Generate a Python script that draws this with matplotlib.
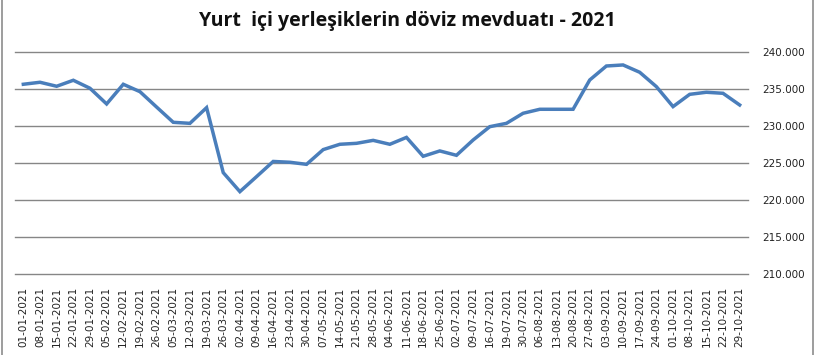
import matplotlib
matplotlib.use("Agg")
import matplotlib.pyplot as plt
from matplotlib.ticker import FuncFormatter
from matplotlib.lines import Line2D

# weekly dates (labels as printed on the chart)
dates = [
    "01-01-2021", "08-01-2021", "15-01-2021", "22-01-2021", "29-01-2021",
    "05-02-2021", "12-02-2021", "19-02-2021", "26-02-2021", "05-03-2021",
    "12-03-2021", "19-03-2021", "26-03-2021", "02-04-2021", "09-04-2021",
    "16-04-2021", "23-04-2021", "30-04-2021", "07-05-2021", "14-05-2021",
    "21-05-2021", "28-05-2021", "04-06-2021", "11-06-2021", "18-06-2021",
    "25-06-2021", "02-07-2021", "09-07-2021", "16-07-2021", "19-07-2021",
    "30-07-2021", "06-08-2021", "13-08-2021", "20-08-2021", "27-08-2021",
    "03-09-2021", "10-09-2021", "17-09-2021", "24-09-2021", "01-10-2021",
    "08-10-2021", "15-10-2021", "22-10-2021", "29-10-2021",
]

# deposits
deposits = [
    235680, 235950, 235410, 236220, 235140, 233020, 235680, 234680, 232600,
    230540, 230400, 232520, 223740, 221170, 223200, 225250, 225140, 224860,
    226850, 227570, 227700, 228100, 227570, 228500, 225950, 226670, 226080,
    228150, 229950, 230400, 231760, 232300, 232300, 232300, 236260, 238150,
    238290, 237300, 235360, 232660, 234320, 234600, 234460, 232880,
]

yticks = [210000, 215000, 220000, 225000, 230000, 235000, 240000]

fig = plt.figure(figsize=(8.15, 3.55), dpi=100)
ax = fig.add_axes([15 / 815, (355 - 274.3) / 355, (748 - 15) / 815, 222 / 355])

x = list(range(len(dates)))
ax.plot(x, deposits, color="#4a7ebb", linewidth=2.5, solid_joinstyle="miter")

ax.set_xlim(-0.5, len(dates) - 0.5)
ax.set_ylim(210000, 240000)
ax.set_yticks(yticks)
ax.yaxis.set_major_formatter(FuncFormatter(lambda v, p: f"{v:,.0f}".replace(",", ".")))
ax.yaxis.tick_right()
ax.set_xticks(x)
ax.set_xticklabels(dates, rotation=90)

ax.grid(axis="y", color="#868686", linewidth=1.0)
for gl in ax.get_ygridlines():
    gl.set_clip_on(False)
ax.set_axisbelow(True)
for s in ax.spines.values():
    s.set_visible(False)
ax.tick_params(axis="both", length=0, labelsize=7.5, colors="#222222")
ax.tick_params(axis="y", pad=10)
ax.tick_params(axis="x", pad=9)

fig.suptitle("Yurt  içi yerleşiklerin döviz mevduatı - 2021", x=0.5, y=0.968,
             fontsize=14, fontweight="bold", family="Open Sans", color="#111111")

# outer chart border (only sides visible)
fig.add_artist(Line2D([1.5 / 815, 1.5 / 815], [0, 1], transform=fig.transFigure,
                      color="#8c8c8c", linewidth=1.2))
fig.add_artist(Line2D([812.5 / 815, 812.5 / 815], [0, 1], transform=fig.transFigure,
                      color="#8c8c8c", linewidth=1.2))

fig.savefig("out.png", dpi=100)
